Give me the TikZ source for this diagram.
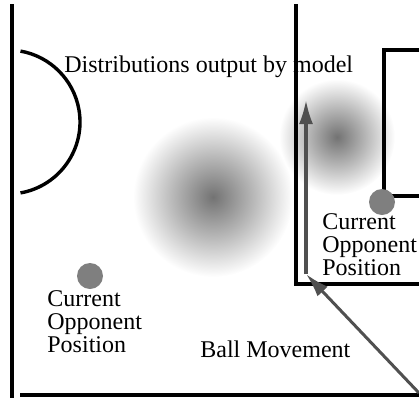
\documentclass[tikz,border=0pt]{standalone}
\usepackage{fontspec}
\setmainfont{Liberation Serif}
\usetikzlibrary{arrows.meta}
\pgfdeclareradialshading{blobshade}{\pgfpoint{0bp}{0bp}}{color(0bp)=(black!55); color(12.5bp)=(black!28); color(25bp)=(white); color(50bp)=(white)}
\definecolor{dotgray}{HTML}{7F7F7F}
\definecolor{arrowgray}{HTML}{505050}
\begin{document}
\begin{tikzpicture}[x=0.5pt, y=-0.5pt, every node/.style={font=\fontsize{12}{11.5}\selectfont, inner sep=0pt},
    field/.style={line width=1.7pt, black},
    blob/.style={circle, shading=blobshade},
    oppdot/.style={circle, fill=dotgray, minimum size=13pt},
    move/.style={line width=1.5pt, arrowgray, -{Latex[length=12pt, width=7pt]}}]
    \useasboundingbox (0,0) rectangle (419,398);

    \node[blob, minimum size=80pt] (bigdist) at (213,197) {};
    \node[blob, minimum size=58pt] (smalldist) at (337,137) {};

    \node[anchor=base west] (title) at (64,72) {Distributions output by model};
    \node[anchor=base west] (ball) at (200,357) {Ball Movement};
    \node[anchor=west, align=left] (oppleftlabel) at (47,322) {Current\\Opponent\\Position};
    \node[anchor=west, align=left] (opprightlabel) at (322,245) {Current\\Opponent\\Position};

    \draw[field] (12,4) -- (12,398);
    \draw[field] (20,395) -- (419,395);
    \draw[field] (8,122) ++(80:72) arc[start angle=80, end angle=-80, radius=72];
    \draw[field] (296,4) -- (296,284) -- (419,284);
    \draw[field] (419,50) -- (384,50) -- (384,196) -- (419,196);

    \node[oppdot] (oppleft) at (90,276) {};
    \node[oppdot] (oppright) at (382,202) {};

    \coordinate (kick) at (419,393);
    \coordinate (turn) at (306,274);
    \coordinate (aim) at (306,100);
    \draw[move] (kick) -- (turn);
    \draw[move] (turn) -- (aim);
\end{tikzpicture}
\end{document}
